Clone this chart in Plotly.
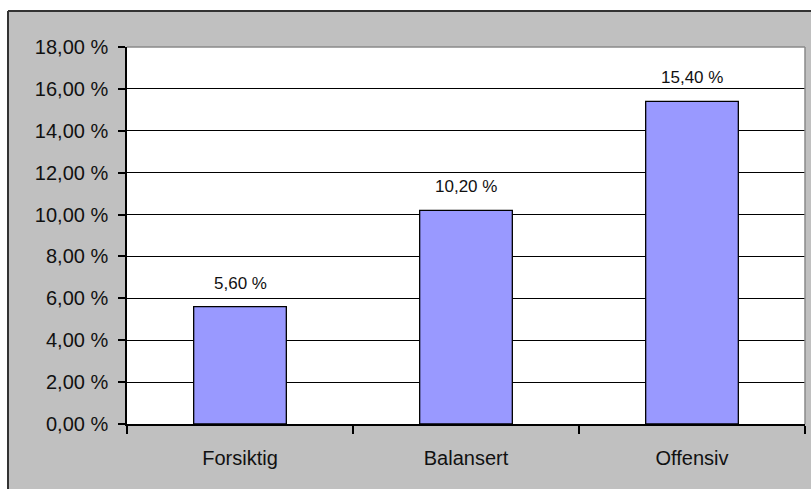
import plotly.graph_objects as go

# Expected annual return per portfolio profile (percent)
categories = ["Forsiktig", "Balansert", "Offensiv"]
values = [5.60, 10.20, 15.40]
y_ticks = [0, 2, 4, 6, 8, 10, 12, 14, 16, 18]

W, H = 811, 489
L, R, T, B = 127, 6, 47, 65

GRAY = "#C0C0C0"
BAR = "#9999FF"
FONT = "Liberation Sans, Arial, sans-serif"


def fmt(v):
    return f"{v:.2f}".replace(".", ",") + " %"


fig = go.Figure()
fig.add_trace(go.Bar(
    x=categories,
    y=values,
    marker=dict(color=BAR, line=dict(color="#000000", width=1.3)),
    hoverinfo="skip",
))

# value labels above each bar
for c, v in zip(categories, values):
    fig.add_annotation(
        x=c, y=v, text=fmt(v), showarrow=False,
        yanchor="bottom", yshift=12,
        font=dict(family=FONT, size=17, color="#111111"),
    )

pw = W - L - R
ph = H - T - B


def px(x):
    return (x - L) / pw


def py(y):
    return (H - B - y) / ph


shapes = [
    # white page strip above and left of the chart frame
    dict(type="rect", xref="paper", yref="paper", layer="above",
         x0=px(-5), x1=px(W + 5), y0=py(11), y1=py(-5),
         fillcolor="white", line=dict(width=0)),
    dict(type="rect", xref="paper", yref="paper", layer="above",
         x0=px(-5), x1=px(8), y0=py(H + 5), y1=py(11),
         fillcolor="white", line=dict(width=0)),
    # dark frame edges
    dict(type="line", xref="paper", yref="paper", layer="above",
         x0=px(8), x1=px(W + 5), y0=py(11), y1=py(11),
         line=dict(color="#333333", width=2)),
    dict(type="line", xref="paper", yref="paper", layer="above",
         x0=px(8), x1=px(8), y0=py(11), y1=py(H + 5),
         line=dict(color="#333333", width=2)),
    # plot area border (top and right) in gray
    dict(type="line", xref="paper", yref="paper", layer="above",
         x0=0, x1=1, y0=1, y1=1, line=dict(color="#8A8A8A", width=1.5)),
    dict(type="line", xref="paper", yref="paper", layer="above",
         x0=1, x1=1, y0=0, y1=1, line=dict(color="#8A8A8A", width=1.5)),
]

fig.update_layout(
    width=W, height=H,
    margin=dict(l=L, r=R, t=T, b=B, pad=0),
    paper_bgcolor=GRAY,
    plot_bgcolor="white",
    showlegend=False,
    bargap=0.59,
    shapes=shapes,
    font=dict(family=FONT, color="#111111"),
)

fig.update_yaxes(
    range=[0, 18],
    tickvals=y_ticks,
    ticktext=[fmt(t) for t in y_ticks],
    showgrid=True, gridcolor="#000000", gridwidth=1.3,
    showline=True, linecolor="#000000", linewidth=1.5,
    ticks="outside", ticklen=7, tickcolor="#000000", tickwidth=1.5,
    ticklabelstandoff=6,
    tickfont=dict(family=FONT, size=20, color="#111111"),
    zeroline=False,
    fixedrange=True,
)

fig.update_xaxes(
    range=[-0.5, 2.5],
    showline=True, linecolor="#000000", linewidth=1.5,
    ticks="outside", tickson="boundaries", ticklen=8,
    tickcolor="#000000", tickwidth=1.5,
    ticklabelstandoff=15,
    tickfont=dict(family=FONT, size=20, color="#111111"),
    showgrid=False,
    fixedrange=True,
)

fig.write_html("out.html", config={"displayModeBar": False})
